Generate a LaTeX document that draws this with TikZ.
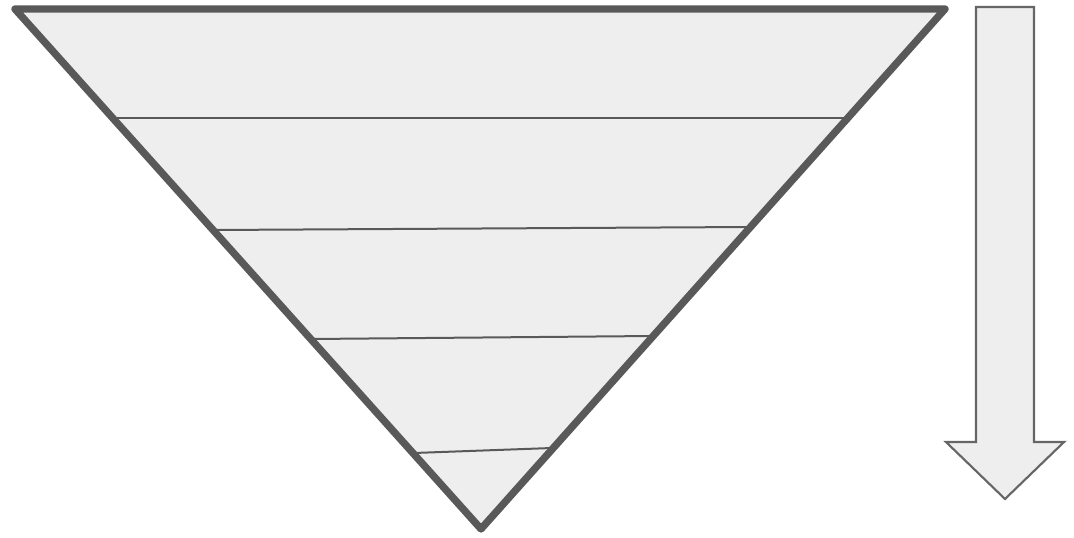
\documentclass[tikz,border=0pt]{standalone}
\definecolor{fillgray}{HTML}{EEEEEE}
\definecolor{edgegray}{HTML}{595959}
\definecolor{arrowgray}{HTML}{666666}
\tikzset{
  funnel/.style={draw=edgegray, fill=fillgray, line width=5.5pt, line join=round},
  divider/.style={draw=edgegray, line width=1.5pt},
  bigarrow/.style={draw=arrowgray, fill=fillgray, line width=1.6pt, line join=miter}
}
\begin{document}
\begin{tikzpicture}[x=0.75pt,y=-0.75pt]
\useasboundingbox (0,0) rectangle (1074,538);
% funnel triangle
\coordinate (tl) at (15,9);
\coordinate (tr) at (945,9);
\coordinate (bt) at (481,529);
\draw[funnel] (tl) -- (tr) -- (bt) -- cycle;
% dividers
\coordinate (a1) at (113,118); \coordinate (b1) at (848,118);
\coordinate (a2) at (214,230); \coordinate (b2) at (750,227);
\coordinate (a3) at (312,339); \coordinate (b3) at (653,336);
\coordinate (a4) at (414,453); \coordinate (b4) at (552,448);
\draw[divider] (a1) -- (b1);
\draw[divider] (a2) -- (b2);
\draw[divider] (a3) -- (b3);
\draw[divider] (a4) -- (b4);
% arrow
\draw[bigarrow] (976,7) -- (1034,7) -- (1034,442) -- (1064,442) -- (1005,499)
  -- (946,442) -- (976,442) -- cycle;
\end{tikzpicture}
\end{document}
